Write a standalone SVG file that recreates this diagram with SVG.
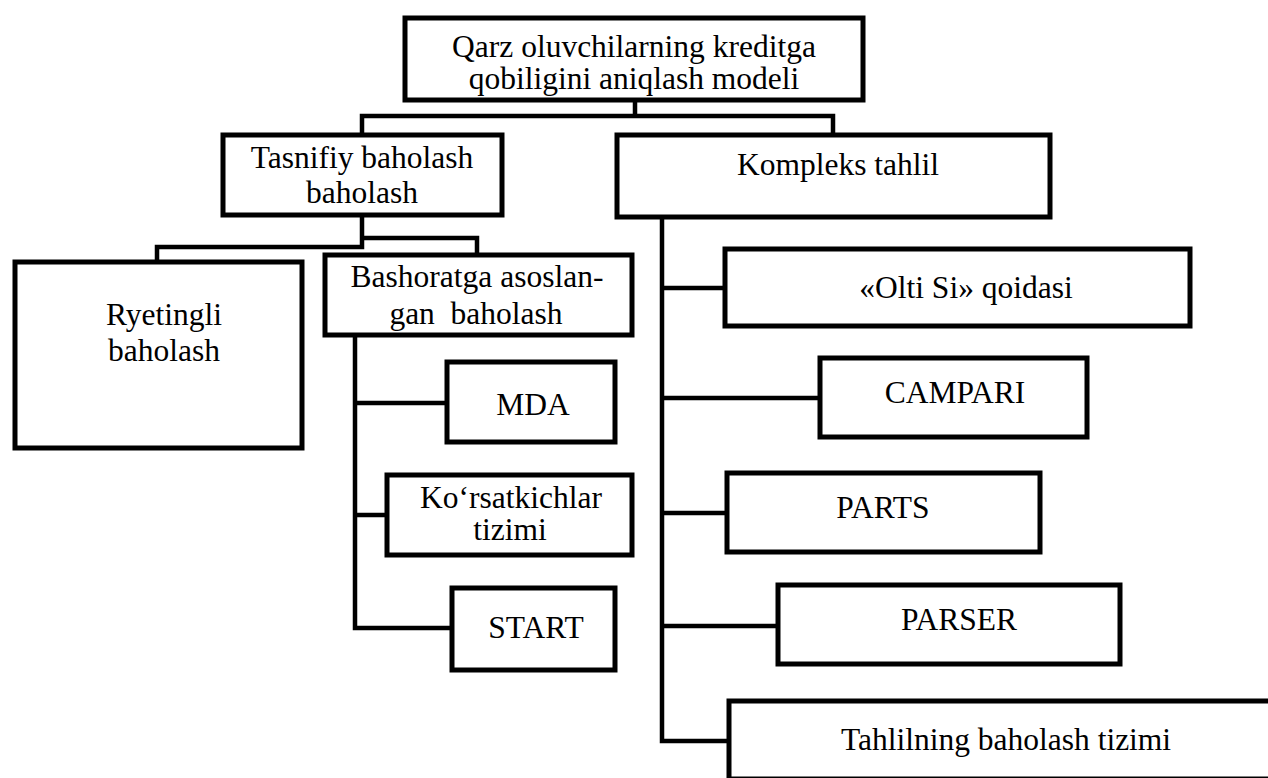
<svg xmlns="http://www.w3.org/2000/svg" width="1268" height="778" viewBox="0 0 1268 778">
  <style>
    .box { fill: #ffffff; stroke: #000000; stroke-width: 5; }
    .link { fill: none; stroke: #000000; stroke-width: 4.5; stroke-linecap: square; stroke-linejoin: miter; }
    text { font-family: "Liberation Serif", "Times New Roman", serif; font-size: 31.5px; fill: #000000; text-anchor: middle; white-space: pre; }
  </style>
  <rect width="1268" height="778" fill="#ffffff"/>

  <!-- connectors -->
  <g id="connectors">
    <!-- root to the two main branches -->
    <path class="link" d="M635 100 V116 M362 116 H833 M362 116 V135 M833 116 V135"/>
    <!-- classification branch -->
    <path class="link" d="M362 215 V247 M157 247 H362 M157 247 V262 M362 238 H477 V255"/>
    <!-- forecast-based sub-items -->
    <path class="link" d="M355 335 V628 M355 403 H447 M355 515 H387 M355 628 H452"/>
    <!-- complex analysis sub-items -->
    <path class="link" d="M662 217 V741 M662 288 H725 M662 398 H820 M662 513 H727 M662 626 H778 M662 741 H729"/>
  </g>

  <g id="root">
    <rect class="box" x="405" y="18" width="458" height="82"/>
    <text x="634" y="57">Qarz oluvchilarning kreditga</text>
    <text x="634" y="89">qobiligini aniqlash modeli</text>
  </g>

  <g id="tasnifiy">
    <rect class="box" x="223" y="135" width="279" height="80"/>
    <text x="362" y="168">Tasnifiy baholash</text>
    <text x="362" y="203">baholash</text>
  </g>

  <g id="kompleks">
    <rect class="box" x="617" y="135" width="433" height="82"/>
    <text x="838" y="175">Kompleks tahlil</text>
  </g>

  <g id="ryetingli">
    <rect class="box" x="15" y="262" width="287" height="186"/>
    <text x="164" y="325">Ryetingli</text>
    <text x="164" y="361">baholash</text>
  </g>

  <g id="bashoratga">
    <rect class="box" x="325" y="255" width="307" height="80"/>
    <text x="477" y="287">Bashoratga asoslan-</text>
    <text x="476" y="324">gan  baholash</text>
  </g>

  <g id="mda">
    <rect class="box" x="447" y="362" width="168" height="80"/>
    <text x="533" y="415">MDA</text>
  </g>

  <g id="korsatkichlar">
    <rect class="box" x="387" y="475" width="245" height="80"/>
    <text x="511" y="508">Ko‘rsatkichlar</text>
    <text x="510" y="540">tizimi</text>
  </g>

  <g id="start">
    <rect class="box" x="452" y="588" width="163" height="82"/>
    <text x="536" y="638">START</text>
  </g>

  <g id="olti-si">
    <rect class="box" x="725" y="249" width="465" height="77"/>
    <text x="966" y="298">«Olti Si» qoidasi</text>
  </g>

  <g id="campari">
    <rect class="box" x="820" y="358" width="267" height="79"/>
    <text x="955" y="403">CAMPARI</text>
  </g>

  <g id="parts">
    <rect class="box" x="727" y="473" width="313" height="79"/>
    <text x="883" y="518">PARTS</text>
  </g>

  <g id="parser">
    <rect class="box" x="778" y="585" width="342" height="79"/>
    <text x="959" y="630">PARSER</text>
  </g>

  <g id="tahlilning">
    <rect class="box" x="729" y="701" width="560" height="78"/>
    <text x="1006" y="750">Tahlilning baholash tizimi</text>
  </g>
</svg>
